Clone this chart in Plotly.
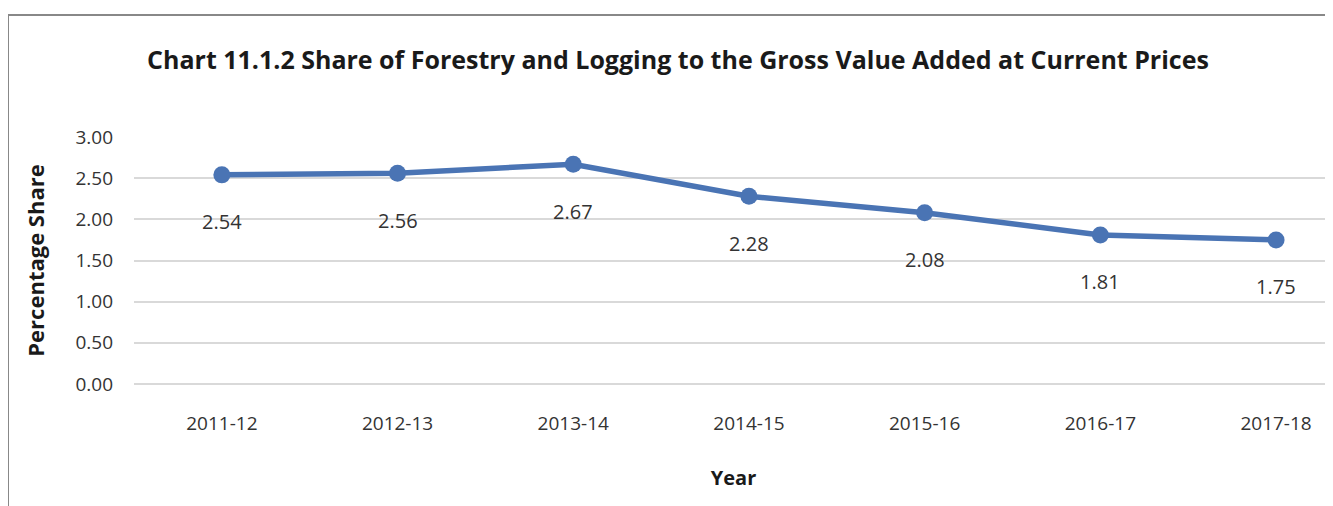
import plotly.graph_objects as go

years = ["2011-12", "2012-13", "2013-14", "2014-15", "2015-16", "2016-17", "2017-18"]
share = [2.54, 2.56, 2.67, 2.28, 2.08, 1.81, 1.75]
y_ticks = [0.0, 0.5, 1.0, 1.5, 2.0, 2.5, 3.0]

# page body has an 8px margin, so the figure starts at (8, 8) in the window
W, H = 1325, 498
L, R, T, B = 126, 0, 129, 122
pw, ph = W - L - R, H - T - B

line_color = "#4A74B4"
font_family = "Open Sans, sans-serif"

fig = go.Figure()
fig.add_trace(go.Scatter(
    x=list(range(len(years))), y=share, mode="lines+markers",
    line=dict(color=line_color, width=5.5),
    marker=dict(color=line_color, size=17),
    hoverinfo="skip", showlegend=False,
))

for i, v in enumerate(share):
    fig.add_annotation(x=i, y=v, text=f"{v:.2f}", showarrow=False, yshift=-47,
                       font=dict(size=20, color="#333333", family=font_family))

# chart border (left and top)
x0 = (0 - L) / pw
ytop = (H - B - 7) / ph
fig.add_shape(type="line", xref="paper", yref="paper", x0=x0, x1=x0, y0=-1, y1=ytop,
              line=dict(color="#888888", width=2))
fig.add_shape(type="line", xref="paper", yref="paper", x0=x0, x1=1.1, y0=ytop, y1=ytop,
              line=dict(color="#888888", width=2))

px_per_cat = 175.7
fig.update_layout(
    width=W, height=H,
    margin=dict(l=L, r=R, t=T, b=B, autoexpand=False),
    paper_bgcolor="white", plot_bgcolor="white",
    title=dict(text="<b>Chart 11.1.2 Share of Forestry and Logging to the Gross Value Added at Current Prices</b>",
               x=670 / W, xanchor="center", y=1 - 52 / H, yanchor="middle",
               font=dict(size=25, color="#1a1a1a", family=font_family)),
    xaxis=dict(range=[-0.5, -0.5 + pw / px_per_cat], tickvals=list(range(len(years))), ticktext=years,
               showgrid=False, zeroline=False, showline=False, ticks="", ticklabelstandoff=26,
               tickfont=dict(size=19, color="#333333", family=font_family),
               title=dict(text="<b>Year</b>", font=dict(size=20, color="#1a1a1a", family=font_family), standoff=35)),
    yaxis=dict(range=[0, 3], tickvals=y_ticks, ticktext=[f"{t:.2f}" for t in y_ticks],
               showgrid=True, gridcolor="#D9D9D9", gridwidth=1.5,
               zeroline=True, zerolinecolor="#D9D9D9", zerolinewidth=1.5, showline=False,
               ticks="", ticklabelstandoff=20,
               tickfont=dict(size=19, color="#333333", family=font_family),
               title=dict(text="<b>Percentage Share</b>", font=dict(size=22, color="#1a1a1a", family=font_family), standoff=24)),
)

fig.write_html("out.html")
